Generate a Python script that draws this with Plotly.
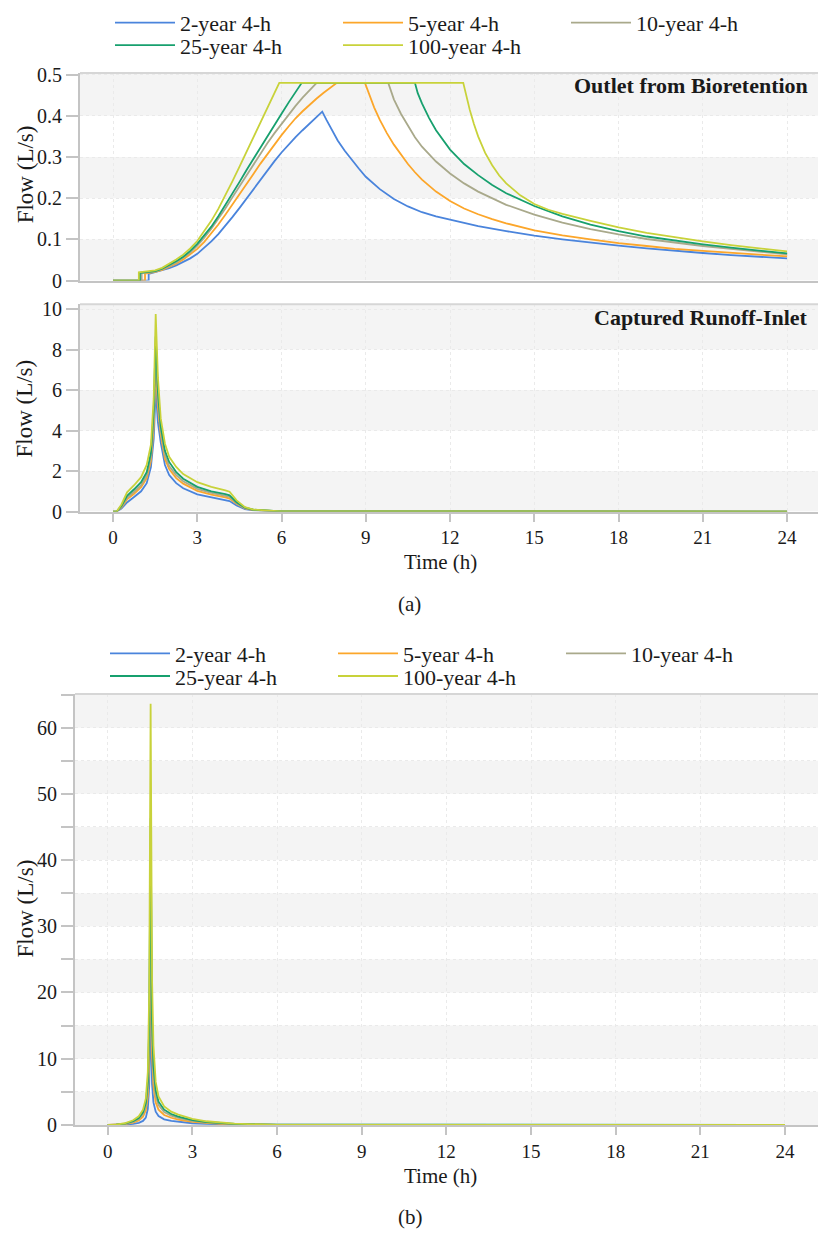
import plotly.graph_objects as go

# ---- series ----
SERIES = ["2-year 4-h", "5-year 4-h", "10-year 4-h", "25-year 4-h", "100-year 4-h"]
COLORS = ["#4a84dc", "#fca62a", "#a9a98b", "#17a06e", "#c8d23a"]

# ---- (a) top: outlet from bioretention, flow in L/s ----
outlet_t_2yr = [0, 1.27, 1.27, 1.5, 1.75, 2, 2.25, 2.5, 2.75, 3, 3.25, 3.5, 3.75, 4, 4.25, 4.5, 4.75,
                5, 5.25, 5.5, 5.75, 6, 6.25, 6.5, 6.75, 7, 7.25, 7.45,
                7.6, 7.8, 8.0, 8.25, 8.5, 8.75, 9.0, 9.5, 10, 10.5, 11, 11.5, 12, 13, 14, 15, 16, 17,
                18, 19, 20, 21, 22, 23, 24]
outlet_q_2yr = [0, 0, 0.016, 0.02, 0.024, 0.03, 0.037, 0.045, 0.054, 0.065, 0.079, 0.095, 0.113, 0.133,
                0.154, 0.176, 0.199, 0.222, 0.245, 0.268, 0.29, 0.311, 0.33, 0.348, 0.365, 0.381, 0.396, 0.41,
                0.39, 0.363, 0.34, 0.315, 0.293, 0.272, 0.252, 0.222, 0.198, 0.18, 0.166, 0.156, 0.148,
                0.132, 0.12, 0.109, 0.1, 0.092, 0.085, 0.078, 0.072, 0.067, 0.062, 0.058, 0.054]

outlet_t_5yr = [0, 1.14, 1.14, 1.5, 1.75, 2, 2.25, 2.5, 2.75, 3, 3.25, 3.5, 3.75, 4, 4.25, 4.5, 4.75,
                5, 5.25, 5.5, 5.75, 6, 6.25, 6.5, 6.75, 7, 7.25, 7.5, 7.75, 7.97, 8.97,
                9.1, 9.3, 9.5, 9.75, 10, 10.25, 10.5, 10.75, 11, 11.5, 12, 12.5, 13, 13.5, 14, 15, 16, 17,
                18, 19, 20, 21, 22, 23, 24]
outlet_q_5yr = [0, 0, 0.017, 0.021, 0.026, 0.033, 0.041, 0.051, 0.063, 0.077, 0.094, 0.114, 0.136, 0.16,
                0.184, 0.209, 0.234, 0.259, 0.284, 0.308, 0.331, 0.353, 0.374, 0.394, 0.411, 0.427, 0.442,
                0.456, 0.469, 0.48, 0.48,
                0.455, 0.42, 0.39, 0.358, 0.33, 0.305, 0.283, 0.263, 0.245, 0.216, 0.193, 0.175, 0.161,
                0.149, 0.139, 0.122, 0.11, 0.1, 0.091, 0.084, 0.077, 0.072, 0.067, 0.063, 0.059]

outlet_t_10yr = [0, 1.02, 1.02, 1.5, 1.75, 2, 2.25, 2.5, 2.75, 3, 3.25, 3.5, 3.75, 4, 4.25, 4.5, 4.75,
                 5, 5.25, 5.5, 5.75, 6, 6.25, 6.5, 6.75, 7, 7.25, 9.8,
                 9.9, 10.0, 10.25, 10.5, 10.75, 11, 11.5, 12, 12.5, 13, 13.5, 14, 15, 16, 17, 18, 19, 20,
                 21, 22, 23, 24]
outlet_q_10yr = [0, 0, 0.018, 0.022, 0.028, 0.035, 0.044, 0.055, 0.068, 0.085, 0.104, 0.126, 0.15, 0.175,
                 0.202, 0.229, 0.256, 0.283, 0.309, 0.334, 0.358, 0.381, 0.403, 0.424, 0.444, 0.463, 0.48,
                 0.48, 0.46, 0.44, 0.405, 0.375, 0.348, 0.325, 0.289, 0.26, 0.236, 0.216, 0.199, 0.184,
                 0.16, 0.141, 0.125, 0.112, 0.101, 0.092, 0.084, 0.077, 0.07, 0.064]

outlet_t_25yr = [0, 0.96, 0.96, 1.5, 1.75, 2, 2.25, 2.5, 2.75, 3, 3.25, 3.5, 3.75, 4, 4.25, 4.5, 4.75,
                 5, 5.25, 5.5, 5.75, 6, 6.25, 6.5, 6.72, 10.75,
                 10.85, 11.0, 11.25, 11.5, 11.75, 12, 12.5, 13, 13.5, 14, 15, 16, 17, 18, 19, 20, 21, 22,
                 23, 24]
outlet_q_25yr = [0, 0, 0.019, 0.023, 0.029, 0.037, 0.047, 0.058, 0.072, 0.089, 0.109, 0.131, 0.156, 0.183,
                 0.211, 0.239, 0.268, 0.296, 0.324, 0.351, 0.378, 0.405, 0.432, 0.458, 0.48, 0.48,
                 0.455, 0.43, 0.395, 0.365, 0.34, 0.318, 0.283, 0.256, 0.232, 0.212, 0.181, 0.156, 0.136,
                 0.12, 0.107, 0.097, 0.088, 0.08, 0.073, 0.066]

outlet_t_100yr = [0, 0.92, 0.92, 1.5, 1.75, 2, 2.25, 2.5, 2.75, 3, 3.25, 3.5, 3.75, 4, 4.25, 4.5, 4.75,
                  5, 5.25, 5.5, 5.75, 5.92, 12.47,
                  12.55, 12.7, 12.85, 13, 13.25, 13.5, 13.75, 14, 14.5, 15, 15.5, 16, 17, 18, 19, 20, 21,
                  22, 23, 24]
outlet_q_100yr = [0, 0, 0.02, 0.025, 0.031, 0.04, 0.051, 0.063, 0.078, 0.096, 0.119, 0.145, 0.174, 0.206,
                  0.241, 0.276, 0.312, 0.348, 0.384, 0.42, 0.456, 0.48, 0.48,
                  0.455, 0.415, 0.38, 0.35, 0.31, 0.28, 0.255, 0.236, 0.207, 0.186, 0.172, 0.162, 0.145,
                  0.129, 0.116, 0.105, 0.095, 0.086, 0.078, 0.071]

# ---- (a) bottom: captured runoff at the inlet, flow in L/s ----
inlet_t = [0, 0.13, 0.3, 0.5, 0.75, 1.0, 1.2, 1.35, 1.45, 1.52, 1.6, 1.7, 1.85, 2.0, 2.25, 2.5,
           3.0, 3.5, 4.0, 4.15, 4.4, 4.7, 5.0, 5.5, 6.0, 24]
inlet_q_2yr = [0, 0, 0.15, 0.45, 0.72, 1.0, 1.4, 2.2, 3.6, 6.03, 4.4, 3.4, 2.3, 1.8, 1.4, 1.15,
               0.85, 0.7, 0.58, 0.52, 0.3, 0.12, 0.06, 0.02, 0.005, 0]
inlet_q_5yr = [0, 0, 0.2, 0.6, 0.88, 1.2, 1.65, 2.5, 4.2, 7.36, 5.1, 3.8, 2.6, 2.1, 1.65, 1.38,
               1.02, 0.84, 0.7, 0.64, 0.38, 0.15, 0.07, 0.025, 0.006, 0]
inlet_q_10yr = [0, 0, 0.24, 0.68, 0.98, 1.3, 1.8, 2.7, 4.6, 8.0, 5.5, 4.0, 2.8, 2.25, 1.8, 1.5,
                1.12, 0.92, 0.78, 0.72, 0.42, 0.17, 0.08, 0.03, 0.007, 0]
inlet_q_25yr = [0, 0, 0.28, 0.78, 1.1, 1.45, 1.95, 2.9, 5.0, 8.65, 5.9, 4.2, 3.0, 2.45, 1.95, 1.62,
                1.22, 1.0, 0.86, 0.8, 0.46, 0.19, 0.09, 0.035, 0.008, 0]
inlet_q_100yr = [0, 0, 0.35, 0.95, 1.3, 1.7, 2.3, 3.3, 5.6, 9.75, 6.6, 4.6, 3.35, 2.7, 2.2, 1.85,
                 1.45, 1.22, 1.05, 0.98, 0.55, 0.22, 0.1, 0.04, 0.01, 0]

# ---- (b) runoff, flow in L/s ----
runoff_t = [0, 0.3, 0.6, 0.9, 1.1, 1.25, 1.35, 1.42, 1.47, 1.52, 1.57, 1.62, 1.7, 1.8, 2.0, 2.25,
            2.5, 3.0, 3.5, 4.0, 4.5, 5.0, 6.0, 24]
runoff_q_2yr = [0, 0.01, 0.05, 0.15, 0.3, 0.6, 1.1, 2.4, 5.8, 17.4, 6.2, 3.4, 2.0, 1.35, 0.85, 0.6,
                0.45, 0.25, 0.15, 0.09, 0.05, 0.03, 0.01, 0]
runoff_q_5yr = [0, 0.02, 0.12, 0.35, 0.68, 1.25, 2.2, 4.3, 9.8, 29.8, 10.5, 5.9, 3.4, 2.3, 1.5, 1.08,
                0.8, 0.46, 0.28, 0.17, 0.1, 0.06, 0.02, 0]
runoff_q_10yr = [0, 0.03, 0.17, 0.45, 0.88, 1.6, 2.8, 5.5, 12.5, 38.5, 13.5, 7.6, 4.4, 3.0, 1.95, 1.4,
                 1.05, 0.6, 0.37, 0.22, 0.13, 0.08, 0.03, 0]
runoff_q_25yr = [0, 0.04, 0.2, 0.55, 1.05, 1.9, 3.3, 6.5, 15.0, 46.3, 16.0, 9.0, 5.2, 3.5, 2.3, 1.65,
                 1.25, 0.72, 0.44, 0.26, 0.16, 0.1, 0.04, 0]
runoff_q_100yr = [0, 0.05, 0.25, 0.7, 1.3, 2.3, 4.0, 8.0, 20.0, 63.6, 22.0, 12.0, 6.5, 4.3, 2.8, 2.0,
                  1.55, 0.9, 0.55, 0.32, 0.2, 0.12, 0.02, 0]

X_TICKS = [0, 3, 6, 9, 12, 15, 18, 21, 24]
TOP_Y_TICKS = [0, 0.1, 0.2, 0.3, 0.4, 0.5]
MID_Y_TICKS = [0, 2, 4, 6, 8, 10]
BOT_Y_TICKS = [0, 5, 10, 15, 20, 25, 30, 35, 40, 45, 50, 55, 60, 65]

outlet = [(outlet_t_2yr, outlet_q_2yr), (outlet_t_5yr, outlet_q_5yr), (outlet_t_10yr, outlet_q_10yr),
          (outlet_t_25yr, outlet_q_25yr), (outlet_t_100yr, outlet_q_100yr)]
inlet = [inlet_q_2yr, inlet_q_5yr, inlet_q_10yr, inlet_q_25yr, inlet_q_100yr]
runoff = [runoff_q_2yr, runoff_q_5yr, runoff_q_10yr, runoff_q_25yr, runoff_q_100yr]

W, H = 818, 1254
FONT = "Palatino Linotype, Book Antiqua, Palatino, Liberation Serif, serif"
INK = "#1a1a1a"
AXIS = "#c4c4c4"
GRID = "#eaeaea"
BAND = "#f4f4f4"


def px_x(p):
    return p / W


def px_y(p):
    return 1 - p / H


# legend rows: first three series on one row, last two on the next
top_rows = ["legend", "legend", "legend", "legend3", "legend3"]
bot_rows = ["legend2", "legend2", "legend2", "legend4", "legend4"]

fig = go.Figure()

for i, name in enumerate(SERIES):
    t, q = outlet[i]
    fig.add_trace(go.Scatter(x=t, y=q, mode="lines", name=name, legend=top_rows[i],
                             line=dict(color=COLORS[i], width=1.8), xaxis="x", yaxis="y"))
for i, name in enumerate(SERIES):
    fig.add_trace(go.Scatter(x=inlet_t, y=inlet[i], mode="lines", name=name, showlegend=False,
                             line=dict(color=COLORS[i], width=1.8), xaxis="x2", yaxis="y2"))
for i, name in enumerate(SERIES):
    fig.add_trace(go.Scatter(x=runoff_t, y=runoff[i], mode="lines", name=name, legend=bot_rows[i],
                             line=dict(color=COLORS[i], width=1.8), xaxis="x3", yaxis="y3"))

ytickfont = dict(family=FONT, size=20, color=INK)
xtickfont = dict(family=FONT, size=19, color=INK)

common_x = dict(showgrid=True, gridcolor=GRID, griddash="dot", gridwidth=1, zeroline=False,
                showline=True, linecolor=AXIS, linewidth=2, tickvals=X_TICKS, tickfont=xtickfont)
common_y = dict(showgrid=True, gridcolor=GRID, griddash="dot", gridwidth=1, zeroline=False,
                showline=True, linecolor=AXIS, linewidth=2, ticks="outside", ticklen=12,
                tickcolor=AXIS, tickwidth=2, tickfont=ytickfont)

# pixel layout of the three panels
top_dom = [px_y(276), px_y(65)]
mid_dom = [px_y(510.7), px_y(300)]
bot_dom = [px_y(1134), px_y(696)]
ab_x_dom = [px_x(80), 1]
b_x_dom = [px_x(75), 1]


def legend_row(x_px, y_px):
    return dict(orientation="h", x=px_x(x_px), y=px_y(y_px), xanchor="left", yanchor="middle",
                entrywidth=153, entrywidthmode="pixels", itemwidth=60, traceorder="normal",
                font=dict(family=FONT, size=22, color=INK), bgcolor="rgba(0,0,0,0)")


fig.update_layout(
    width=W, height=H,
    margin=dict(l=0, r=0, t=0, b=0),
    paper_bgcolor="white", plot_bgcolor="white",
    font=dict(family=FONT, color=INK),
    xaxis=dict(common_x, domain=ab_x_dom, range=[-1.175, 25.1], showticklabels=False, ticks="",
               anchor="y"),
    yaxis=dict(common_y, domain=top_dom, range=[0, 0.504], tickvals=TOP_Y_TICKS,
               ticktext=["0", "0.1", "0.2", "0.3", "0.4", "0.5"], anchor="x"),
    xaxis2=dict(common_x, domain=ab_x_dom, range=[-1.175, 25.1], ticks="outside", ticklen=8,
                tickcolor=AXIS, tickwidth=2, anchor="y2"),
    yaxis2=dict(common_y, domain=mid_dom, range=[0, 10.24], tickvals=MID_Y_TICKS, anchor="x2"),
    xaxis3=dict(common_x, domain=b_x_dom, range=[-1.16, 25.17], ticks="outside", ticklen=8,
                tickcolor=AXIS, tickwidth=2, anchor="y3"),
    yaxis3=dict(common_y, domain=bot_dom, range=[0, 65.1], tickvals=BOT_Y_TICKS,
                ticktext=[str(v) if v % 10 == 0 else "" for v in BOT_Y_TICKS], anchor="x3"),
    legend=legend_row(110, 14),
    legend3=legend_row(110, 37),
    legend2=legend_row(105, 655),
    legend4=legend_row(105, 678),
)

# alternating horizontal bands behind each panel
shapes = []
for y0, y1 in [(0, 0.1), (0.2, 0.3), (0.4, 0.504)]:
    shapes.append(dict(type="rect", xref="x domain", yref="y", x0=0, x1=1, y0=y0, y1=y1,
                       fillcolor=BAND, line_width=0, layer="below"))
for y0, y1 in [(0, 2), (4, 6), (8, 10.24)]:
    shapes.append(dict(type="rect", xref="x2 domain", yref="y2", x0=0, x1=1, y0=y0, y1=y1,
                       fillcolor=BAND, line_width=0, layer="below"))
for k in range(0, 65, 10):
    shapes.append(dict(type="rect", xref="x3 domain", yref="y3", x0=0, x1=1, y0=k, y1=min(k + 5, 65.1),
                       fillcolor=BAND, line_width=0, layer="below"))
# light frame line across the top of each panel
for xr, yr in [("x domain", "y domain"), ("x2 domain", "y2 domain"), ("x3 domain", "y3 domain")]:
    shapes.append(dict(type="line", xref=xr, yref=yr, x0=0, x1=1, y0=1, y1=1,
                       line=dict(color="#d6d6d6", width=2)))
fig.update_layout(shapes=shapes)

ann_font = dict(family=FONT, size=21, color=INK)
ytitle_font = dict(family=FONT, size=23, color=INK)
title_font = dict(family=FONT, size=22, color=INK)
annotations = [
    dict(text="<b>Outlet from Bioretention</b>", xref="paper", yref="paper", x=px_x(810), y=px_y(78),
         xanchor="right", yanchor="middle", showarrow=False, font=title_font),
    dict(text="<b>Captured Runoff-Inlet</b>", xref="paper", yref="paper", x=px_x(810), y=px_y(314),
         xanchor="right", yanchor="middle", showarrow=False, font=title_font),
    dict(text="Flow (L/s)", xref="paper", yref="paper", x=px_x(25), y=px_y(168), textangle=-90,
         xanchor="center", yanchor="middle", showarrow=False, font=ytitle_font),
    dict(text="Flow (L/s)", xref="paper", yref="paper", x=px_x(25), y=px_y(406), textangle=-90,
         xanchor="center", yanchor="middle", showarrow=False, font=ytitle_font),
    dict(text="Flow (L/s)", xref="paper", yref="paper", x=px_x(25), y=px_y(914), textangle=-90,
         xanchor="center", yanchor="middle", showarrow=False, font=ytitle_font),
    dict(text="Time (h)", xref="paper", yref="paper", x=px_x(441), y=px_y(562),
         xanchor="center", yanchor="middle", showarrow=False, font=ann_font),
    dict(text="Time (h)", xref="paper", yref="paper", x=px_x(441), y=px_y(1186),
         xanchor="center", yanchor="middle", showarrow=False, font=ann_font),
    dict(text="(a)", xref="paper", yref="paper", x=px_x(409), y=px_y(605),
         xanchor="center", yanchor="middle", showarrow=False, font=ann_font),
    dict(text="(b)", xref="paper", yref="paper", x=px_x(410), y=px_y(1228),
         xanchor="center", yanchor="middle", showarrow=False, font=ann_font),
]
fig.update_layout(annotations=annotations)

fig.write_html("out.html")
